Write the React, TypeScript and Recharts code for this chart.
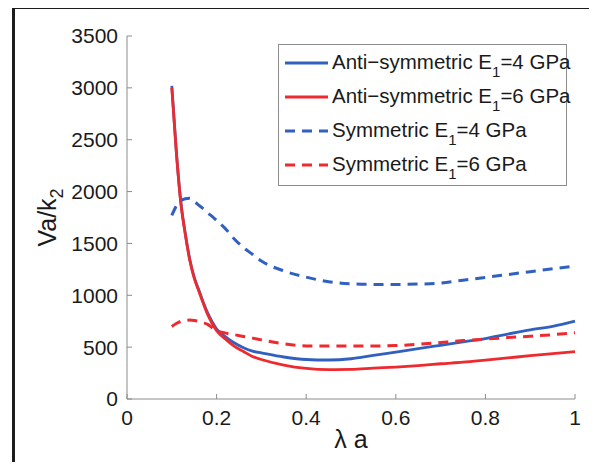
import { Label, Legend, Line, LineChart, XAxis, YAxis } from 'recharts'

const AXIS = '#8c8c8c'
const INK = '#1a1a1a'
const BLUE = '#3160c0'
const RED = '#ee2a2f'
const FONT = '"Liberation Sans", Arial, sans-serif'

// lambda*a sample points
const LAMBDA_A = [
  0.1, 0.11, 0.12, 0.13, 0.14, 0.15, 0.16, 0.17, 0.18, 0.19, 0.2, 0.22, 0.24, 0.26, 0.28,
  0.3, 0.35, 0.4, 0.45, 0.5, 0.55, 0.6, 0.65, 0.7, 0.75, 0.8, 0.85, 0.9, 0.95, 1.0,
]
const ANTI_E4 = [
  3020, 2395, 1905, 1600, 1350, 1175, 1055, 935, 830, 745, 675, 600, 540, 495, 462,
  445, 405, 381, 376, 388, 421, 453, 485, 518, 551, 583, 626, 666, 701, 751,
]
const ANTI_E6 = [
  3000, 2385, 1895, 1590, 1340, 1165, 1045, 925, 815, 728, 658, 577, 507, 458, 410,
  381, 327, 295, 283, 285, 297, 308, 322, 340, 355, 375, 396, 418, 437, 456,
]
const SYM_E4 = [
  1770, 1860, 1910, 1930, 1935, 1905, 1870, 1835, 1795, 1760, 1720, 1640, 1540, 1460, 1395,
  1330, 1235, 1175, 1130, 1110, 1105, 1105, 1108, 1118, 1145, 1172, 1200, 1228, 1255, 1281,
]
const SYM_E6 = [
  700, 728, 748, 758, 761, 757, 748, 735, 720, 688, 662, 635, 620, 603, 587,
  570, 532, 512, 511, 511, 511, 515, 527, 545, 563, 578, 592, 605, 620, 639,
]

const X_TICKS = [0, 0.2, 0.4, 0.6, 0.8, 1]
const Y_TICKS = [0, 500, 1000, 1500, 2000, 2500, 3000, 3500]

const data = LAMBDA_A.map((x, i) => ({
  x,
  antiE4: ANTI_E4[i],
  antiE6: ANTI_E6[i],
  symE4: SYM_E4[i],
  symE6: SYM_E6[i],
}))

const SERIES = [
  { key: 'antiE4', pre: 'Anti\u2212symmetric E', post: '=4 GPa', color: BLUE, dash: undefined },
  { key: 'antiE6', pre: 'Anti\u2212symmetric E', post: '=6 GPa', color: RED, dash: undefined },
  { key: 'symE4', pre: 'Symmetric E', post: '=4 GPa', color: BLUE, dash: '10 7' },
  { key: 'symE6', pre: 'Symmetric E', post: '=6 GPa', color: RED, dash: '10 7' },
]

function LegendBox() {
  return (
    <div
      style={{
        border: `1px solid ${AXIS}`,
        background: '#fff',
        width: 287,
        height: 140,
        boxSizing: 'content-box',
        fontFamily: FONT,
        color: INK,
      }}
    >
      {SERIES.map((s, i) => (
        <div
          key={s.key}
          style={{
            position: 'absolute',
            left: 7,
            top: 19 + i * 34 - 12,
            height: 24,
            display: 'flex',
            alignItems: 'center',
            whiteSpace: 'nowrap',
          }}
        >
          <svg width={43} height={6} style={{ marginRight: 4 }}>
            <line x1={0} y1={3} x2={43} y2={3} stroke={s.color} strokeWidth={3} strokeDasharray={s.dash} />
          </svg>
          <span style={{ fontSize: 20.5, lineHeight: '24px' }}>
            {s.pre}
            <span style={{ fontSize: 15, position: 'relative', top: 8 }}>1</span>
            {s.post}
          </span>
        </div>
      ))}
    </div>
  )
}

export default function App() {
  return (
    <div style={{ position: 'relative', width: 597, height: 470, margin: -8, background: '#fff', fontFamily: FONT }}>
      <div
        style={{
          position: 'absolute',
          left: 12,
          top: 6,
          right: -10,
          bottom: -10,
          borderLeft: '3px solid #1c1c1c',
          borderTop: '3px solid #1c1c1c',
        }}
      />
      <div style={{ position: 'absolute', left: 0, top: 0 }}>
        <LineChart width={597} height={470} data={data} margin={{ top: 36, right: 22, bottom: 41, left: 67 }}>
          <XAxis
            dataKey="x"
            type="number"
            domain={[0, 1]}
            ticks={X_TICKS}
            tickFormatter={(v) => String(v)}
            height={30}
            stroke={AXIS}
            tickSize={-5}
            tickMargin={16}
            tick={{ fill: INK, fontSize: 21, fontFamily: FONT }}
          >
            <Label
              content={({ viewBox }: any) => (
                <text
                  x={viewBox.x + viewBox.width / 2}
                  y={viewBox.y + 49}
                  textAnchor="middle"
                  fontSize={25}
                  fontFamily={FONT}
                  fill={INK}
                >
                  {'\u03bb a'}
                </text>
              )}
            />
          </XAxis>
          <XAxis
            xAxisId="top"
            dataKey="x"
            type="number"
            orientation="top"
            domain={[0, 1]}
            ticks={X_TICKS}
            height={0}
            stroke={AXIS}
            tickSize={-5}
            tick={false}
          />
          <YAxis
            type="number"
            domain={[0, 3500]}
            ticks={Y_TICKS}
            width={60}
            stroke={AXIS}
            tickSize={-5}
            tickMargin={14}
            tick={{ fill: INK, fontSize: 21, fontFamily: FONT }}
            allowDataOverflow
          >
            <Label
              content={({ viewBox }: any) => {
                const cx = viewBox.x - 11
                const cy = viewBox.y + viewBox.height / 2
                return (
                  <text
                    x={cx}
                    y={cy}
                    transform={`rotate(-90 ${cx} ${cy})`}
                    textAnchor="middle"
                    fontSize={25}
                    fontFamily={FONT}
                    fill={INK}
                  >
                    Va/k
                    <tspan fontSize={18} dy={7}>
                      2
                    </tspan>
                  </text>
                )
              }}
            />
          </YAxis>
          <YAxis
            yAxisId="right"
            type="number"
            orientation="right"
            domain={[0, 3500]}
            ticks={Y_TICKS}
            width={0}
            stroke={AXIS}
            tickSize={-5}
            tick={false}
          />
          <Legend
            layout="vertical"
            align="center"
            verticalAlign="middle"
            wrapperStyle={{ left: 278, top: 44, width: 289, height: 142 }}
            content={() => <LegendBox />}
          />
          <Line
            dataKey="symE4"
            name="Symmetric E1=4 GPa"
            stroke={BLUE}
            strokeWidth={3}
            strokeDasharray="10 7"
            type="monotone"
            dot={false}
            isAnimationActive={false}
          />
          <Line
            dataKey="antiE4"
            name="Anti-symmetric E1=4 GPa"
            stroke={BLUE}
            strokeWidth={2.8}
            type="monotone"
            dot={false}
            isAnimationActive={false}
          />
          <Line
            dataKey="antiE6"
            name="Anti-symmetric E1=6 GPa"
            stroke={RED}
            strokeWidth={2.8}
            type="monotone"
            dot={false}
            isAnimationActive={false}
          />
          <Line
            dataKey="symE6"
            name="Symmetric E1=6 GPa"
            stroke={RED}
            strokeWidth={3}
            strokeDasharray="10 7"
            type="monotone"
            dot={false}
            isAnimationActive={false}
          />
        </LineChart>
      </div>
    </div>
  )
}
